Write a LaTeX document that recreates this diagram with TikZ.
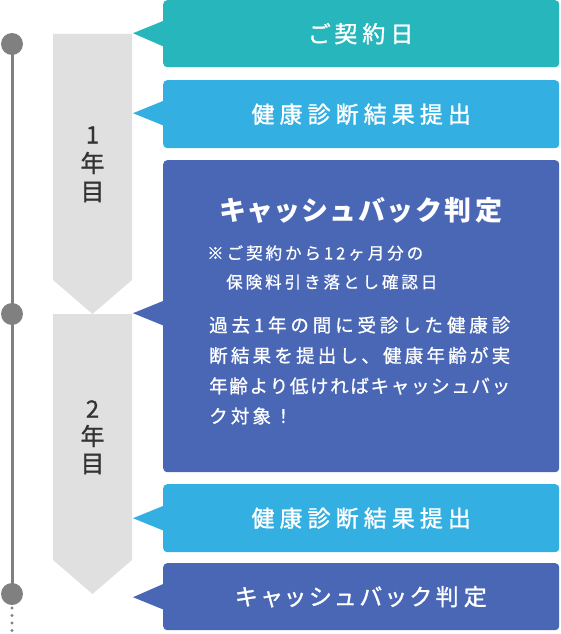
\documentclass[tikz,border=0pt]{standalone}
\usepackage{fontspec}
\setmainfont{Noto Sans CJK JP}
\newfontfamily\jpbox[LetterSpace=22,FakeBold=1.2,RawFeature=+palt]{Noto Sans CJK JP}
\newfontfamily\jptitle[LetterSpace=15,RawFeature=+palt]{Noto Sans CJK JP}
\newfontfamily\jpbody[FakeBold=0.9]{Noto Sans CJK JP}
\newfontfamily\jpbodyls[LetterSpace=17,FakeBold=0.9]{Noto Sans CJK JP}
\newfontfamily\jpnote[LetterSpace=18,FakeBold=0.7]{Noto Sans CJK JP}
\newfontfamily\jpyear[FakeBold=1.0]{Noto Sans CJK JP}
\definecolor{cteal}{RGB}{38,182,187}
\definecolor{clight}{RGB}{51,175,226}
\definecolor{cdark}{RGB}{74,103,182}
\definecolor{cchev}{RGB}{224,224,224}
\definecolor{cline}{RGB}{128,128,128}
\definecolor{ctext}{RGB}{51,51,51}
% justify a line of CJK characters: glue between every character
\def\spreadtext#1{#1\spreadnext}
\def\spreadnext#1{\ifx\endspread#1\else\hfil#1\expandafter\spreadnext\fi}
\def\endspread{\relax}
\newcommand{\jline}[1]{\hbox to 301pt{\spreadtext #1\endspread}}
\begin{document}
\begin{tikzpicture}[x=1pt,y=-1pt,
  evbox/.style={anchor=north west, rounded corners=4pt, minimum width=396pt, inner sep=0pt, text=white},
  boxtext/.style={font=\jpbox\fontsize{23}{27}\selectfont},
  dot/.style={circle, fill=cline, minimum size=22pt, inner sep=0pt},
  yearlbl/.style={font=\jpyear\fontsize{24}{28}\selectfont, text=ctext, inner sep=0pt},
  bodytxt/.style={font=\jpbody\fontsize{18.5}{22}\selectfont, text=white, anchor=west, inner sep=0pt},
  notetxt/.style={font=\jpnote\fontsize{16.5}{20}\selectfont, text=white, anchor=west, inner sep=0pt}]
\useasboundingbox (0,0) rectangle (560,634);

% chevrons
\fill[cchev] (53,34) -- (132,34) -- (132,280) -- (92.5,314) -- (53,280) -- cycle;
\fill[cchev] (53,314) -- (132,314) -- (132,560) -- (92.5,594) -- (53,560) -- cycle;
\node[yearlbl] (y1a) at (92.5,135) {1};
\node[yearlbl] (y1b) at (92.5,163) {年};
\node[yearlbl] (y1c) at (92.5,192) {目};
\node[yearlbl] (y2a) at (92.5,409) {2};
\node[yearlbl] (y2b) at (92.5,436) {年};
\node[yearlbl] (y2c) at (92.5,464) {目};

% timeline
\node[dot] (d1) at (12,44) {};
\node[dot] (d2) at (12,314) {};
\node[dot] (d3) at (12,594) {};
\draw[cline, line width=3pt] (d1.center) -- (d3.center);
\foreach \yy in {608,615.5,623,630.5} \fill[cline] (12,\yy) circle (1.7pt);

% boxes
\node[evbox, fill=cteal, minimum height=67pt, boxtext] (b1) at (163,0) {ご契約日};
\node[evbox, fill=clight, minimum height=68pt, boxtext] (b2) at (163,80) {健康診断結果提出};
\node[evbox, fill=cdark, minimum height=312pt] (b3) at (163,160) {};
\node[evbox, fill=clight, minimum height=68pt, boxtext] (b4) at (163,484) {健康診断結果提出};
\node[evbox, fill=cdark, minimum height=67pt, boxtext] (b5) at (163,563) {キャッシュバック判定};

% pointers
\fill[cteal] ([xshift=2pt,yshift=-13.5pt]b1.west) -- ([xshift=-30pt,yshift=0.5pt]b1.west) -- ([xshift=2pt,yshift=13.5pt]b1.west) -- cycle;
\fill[clight] ([xshift=2pt,yshift=-12pt]b2.west) -- ([xshift=-30pt,yshift=1pt]b2.west) -- ([xshift=2pt,yshift=14pt]b2.west) -- cycle;
\fill[cdark] ([xshift=2pt,yshift=-10pt]b3.west) -- ([xshift=-30pt,yshift=3pt]b3.west) -- ([xshift=2pt,yshift=16pt]b3.west) -- cycle;
\fill[clight] ([xshift=2pt,yshift=-13pt]b4.west) -- ([xshift=-30pt]b4.west) -- ([xshift=2pt,yshift=13pt]b4.west) -- cycle;
\fill[cdark] ([xshift=2pt,yshift=-13.5pt]b5.west) -- ([xshift=-30pt,yshift=-0.5pt]b5.west) -- ([xshift=2pt,yshift=13.5pt]b5.west) -- cycle;

% box 3 content
\node[font=\jptitle\bfseries\fontsize{27}{31}\selectfont, text=white, inner sep=0pt] (t3) at (361,210) {キャッシュバック判定};
\node[notetxt] (n1) at (207,253) {※ご契約から12ヶ月分の};
\node[notetxt] (n2) at (226,282) {保険料引き落とし確認日};
\node[bodytxt] (l1) at (209,325) {\jline{過去1年の間に受診した健康診}};
\node[bodytxt] (l2) at (209,355.5) {\jline{断結果を提出し、健康年齢が実}};
\node[bodytxt] (l3) at (209,386) {\jline{年齢より低ければキャッシュバッ}};
\node[bodytxt, font=\jpbodyls\fontsize{18.5}{22}\selectfont] (l4) at (209,416) {ク対象！};
\end{tikzpicture}
\end{document}
